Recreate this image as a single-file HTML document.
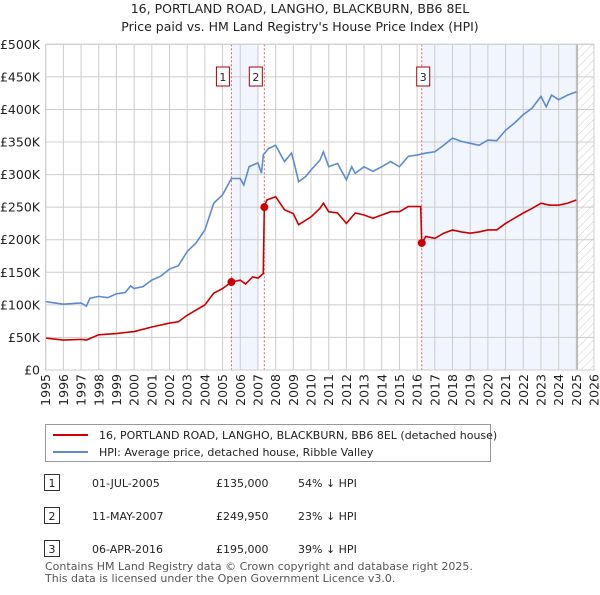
<!DOCTYPE html>
<html><head><meta charset="utf-8"><style>
body{margin:0;background:#fff;font-family:"Liberation Sans","DejaVu Sans",sans-serif;}
svg text{font-family:"DejaVu Sans","Liberation Sans",sans-serif;}
</style></head><body>
<svg id="c" width="600" height="590" xmlns="http://www.w3.org/2000/svg">
<defs><pattern id="hatch" width="6" height="6" patternUnits="userSpaceOnUse" patternTransform="rotate(45)"><line x1="0" y1="0" x2="0" y2="6" stroke="#ccc" stroke-width="1"/></pattern></defs>
<text x="300" y="13" text-anchor="middle" font-size="12.5" fill="#222">16, PORTLAND ROAD, LANGHO, BLACKBURN, BB6 8EL</text>
<text x="300" y="31" text-anchor="middle" font-size="12.5" fill="#222">Price paid vs. HM Land Registry's House Price Index (HPI)</text>
<g id="plot"></g>
<g>
<rect x="45.5" y="424.5" width="445" height="37" fill="#fff" stroke="#999"/>
<line x1="53" y1="435" x2="88" y2="435" stroke="#cc0000" stroke-width="2"/>
<text x="99" y="439" font-size="11" fill="#222">16, PORTLAND ROAD, LANGHO, BLACKBURN, BB6 8EL (detached house)</text>
<line x1="53" y1="452" x2="88" y2="452" stroke="#5b8bd0" stroke-width="2"/>
<text x="99" y="456" font-size="11" fill="#222">HPI: Average price, detached house, Ribble Valley</text>
</g>
<g font-size="11" fill="#222">
<rect x="44.5" y="474.5" width="15" height="16" fill="#fff" stroke="#333"/><text x="52" y="487" text-anchor="middle">1</text>
<text x="92" y="487">01-JUL-2005</text><text x="216" y="487">£135,000</text><text x="298" y="487">54% ↓ HPI</text>
<rect x="44.5" y="507.5" width="15" height="16" fill="#fff" stroke="#333"/><text x="52" y="520" text-anchor="middle">2</text>
<text x="92" y="520">11-MAY-2007</text><text x="216" y="520">£249,950</text><text x="298" y="520">23% ↓ HPI</text>
<rect x="44.5" y="540.5" width="15" height="16" fill="#fff" stroke="#333"/><text x="52" y="553" text-anchor="middle">3</text>
<text x="92" y="553">06-APR-2016</text><text x="216" y="553">£195,000</text><text x="298" y="553">39% ↓ HPI</text>
</g>
<text x="45" y="570" font-size="11" fill="#555">Contains HM Land Registry data © Crown copyright and database right 2025.</text>
<text x="45" y="582" font-size="11" fill="#555">This data is licensed under the Open Government Licence v3.0.</text>
</svg>
<script>
const hpiYears=[1995,1995.5,1996,1996.5,1997,1997.3,1997.5,1998,1998.5,1999,1999.5,1999.8,2000,2000.5,2001,2001.5,2002,2002.5,2003,2003.5,2004,2004.5,2005,2005.5,2006,2006.2,2006.5,2007,2007.2,2007.3,2007.6,2008,2008.5,2008.9,2009.1,2009.3,2009.7,2010,2010.5,2010.7,2011,2011.5,2012,2012.3,2012.5,2013,2013.5,2014,2014.5,2015,2015.5,2016,2016.5,2017,2017.5,2018,2018.5,2019,2019.5,2020,2020.5,2021,2021.5,2022,2022.5,2023,2023.3,2023.6,2024,2024.5,2025];
const hpiValues=[105,103,101,102,103,98,110,113,111,117,119,129,125,128,138,144,155,160,182,195,215,256,269,294,294,284,312,318,302,330,340,345,320,333,312,289,297,307,322,335,312,317,292,312,302,312,305,312,320,312,328,330,333,335,345,356,351,348,345,353,352,368,379,392,402,420,404,422,415,422,427];
const ppYears=[1995,1996,1997,1997.3,1998,1999,2000,2001,2002,2002.5,2003,2004,2004.5,2005,2005.5,2006,2006.3,2006.7,2007,2007.3,2007.36,2007.5,2008,2008.5,2009,2009.3,2010,2010.5,2010.7,2011,2011.5,2012,2012.5,2013,2013.5,2014,2014.5,2015,2015.5,2016.2,2016.26,2016.5,2017,2017.5,2018,2018.5,2019,2019.5,2020,2020.5,2021,2021.5,2022,2022.5,2023,2023.5,2024,2024.5,2025];
const ppValues=[49,46,47,46,54,56,59,66,72,74,84,100,118,125,135,138,132,143,141,148,249.95,261,266,246,240,223,235,248,256,243,241,225,241,238,233,238,243,243,251,251,195,205,202,210,215,212,210,212,215,215,225,233,241,248,256,253,253,256,261];
const saleYears=[2005.5,2007.36,2016.26];
const saleValues=[135,249.95,195];
const saleLabels=["1","2","3"];
const yTicks=[0,50,100,150,200,250,300,350,400,450,500];
const yTickLabels=["£0","£50K","£100K","£150K","£200K","£250K","£300K","£350K","£400K","£450K","£500K"];
const xTicks=[1995,1996,1997,1998,1999,2000,2001,2002,2003,2004,2005,2006,2007,2008,2009,2010,2011,2012,2013,2014,2015,2016,2017,2018,2019,2020,2021,2022,2023,2024,2025,2026];

const X0=45.7,X1=594,Y0=370,Y1=44.3;
const xs=y=>X0+(y-1995)/(2026-1995)*(X1-X0);
const ys=v=>Y0-v/500*(Y0-Y1);
const NS="http://www.w3.org/2000/svg";
const g=document.getElementById('plot');
function mk(tag,attrs,parent){const e=document.createElementNS(NS,tag);for(const k in attrs)e.setAttribute(k,attrs[k]);(parent||g).appendChild(e);return e;}

let e;
e=mk('rect',{x:xs(2005.5),y:Y1,width:xs(2007.0)-xs(2005.5),height:Y0-Y1,fill:'#eef3fc',opacity:0.8});


e=mk('rect',{x:xs(2016.26),y:Y1,width:xs(2025.05)-xs(2016.26),height:Y0-Y1,fill:'#eef3fc',opacity:0.8});


e=mk('rect',{x:xs(2025.05),y:Y1,width:X1-xs(2025.05),height:Y0-Y1,fill:'url(#hatch)'});



yTicks.forEach((t,i)=>{
  e=mk('line',{x1:X0,x2:X1,y1:ys(t),y2:ys(t),stroke:'#ccc','stroke-width':1});
  
  
  e=mk('text',{x:40,y:ys(t)+4.5,'text-anchor':'end','font-size':12.5,fill:'#222'});
  e.textContent=yTickLabels[i];
  
  
});
xTicks.forEach(t=>{
  e=mk('line',{x1:xs(t),x2:xs(t),y1:Y1,y2:Y0,stroke:'#ccc','stroke-width':1});
  
  
  e=mk('text',{x:0,y:0,'text-anchor':'end','font-size':12.5,fill:'#222',transform:`translate(${xs(t)+4.5},374) rotate(-90)`});
  e.textContent=t;
  
  
});
e=mk('line',{x1:xs(2025.05),x2:xs(2025.05),y1:Y1,y2:Y0,stroke:'#999','stroke-width':1});



saleYears.forEach((sy,i)=>{
  e=mk('line',{x1:xs(sy),x2:xs(sy),y1:Y1,y2:Y0,stroke:'#e06060','stroke-width':1,'stroke-dasharray':'2,2'});
  
  
});

e=mk('polyline',{points:hpiYears.map((y,i)=>xs(y)+','+ys(hpiValues[i])).join(' '),fill:'none',stroke:'#5b8bd0','stroke-width':1.6});


e=mk('polyline',{points:ppYears.map((y,i)=>xs(y)+','+ys(ppValues[i])).join(' '),fill:'none',stroke:'#cc0000','stroke-width':1.6});



saleYears.forEach((sy,i)=>{
  e=mk('circle',{cx:xs(sy),cy:ys(saleValues[i]),r:4,fill:'#cc0000'});
  
  
  const bx=xs(sy)-(i===2?3:10)-7;
  e=mk('rect',{x:xs(sy)-(i===2?5:15),y:67,width:13,height:19,fill:'#fff',stroke:'#aa0000'});
  
  
  e=mk('text',{x:xs(sy)-(i===2?5:15)+6.5,y:81,'text-anchor':'middle','font-size':11,fill:'#222'});
  e.textContent=saleLabels[i];
  
  
});
e=mk('rect',{x:X0,y:Y1,width:X1-X0,height:Y0-Y1,fill:'none',stroke:'#ccc'});


</script>
</body></html>
